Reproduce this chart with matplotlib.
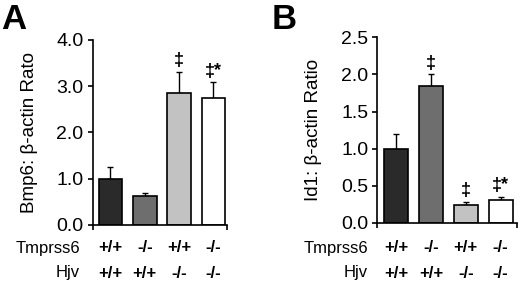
import matplotlib
matplotlib.use("Agg")
import matplotlib.pyplot as plt
import matplotlib.transforms as mtransforms

plt.rcParams['font.family'] = ['Liberation Sans', 'DejaVu Sans']

# data
tmprss6 = ["+/+", "-/-", "+/+", "-/-"]
hjv = ["+/+", "+/+", "-/-", "-/-"]
bar_colors = ["#2a2a2a", "#6e6e6e", "#c2c2c2", "#ffffff"]

bmp6 = [1.00, 0.63, 2.85, 2.74]
bmp6_err = [0.25, 0.06, 0.46, 0.34]
bmp6_marks = ["", "", "\u2021", "\u2021*"]

id1 = [1.00, 1.85, 0.24, 0.30]
id1_err = [0.19, 0.15, 0.04, 0.05]
id1_marks = ["", "\u2021", "\u2021", "\u2021*"]

fig = plt.figure(figsize=(5.2, 2.83), dpi=100)


def panel(rect, vals, errs, marks, ylim, yticks, ylabel, xlim, label_x, lpad):
    ax = fig.add_axes(rect)
    x = list(range(len(vals)))
    ax.bar(x, vals, width=0.69, color=bar_colors, edgecolor="black", linewidth=1.2, zorder=2)
    ax.errorbar(x, vals, yerr=[[0] * len(errs), errs], fmt="none", ecolor="black",
                elinewidth=1.0, capsize=2.5, capthick=1.0, zorder=1)
    for xi, v, e, m in zip(x, vals, errs, marks):
        if m:
            ax.text(xi, v + e + (ylim[1] * 0.015), m, ha="center", va="bottom",
                    fontsize=13, fontweight="bold")
    ax.set_ylim(*ylim)
    ax.set_xlim(*xlim)
    ax.set_yticks(yticks)
    ax.set_yticklabels(["%.1f" % t for t in yticks], fontsize=14)
    ax.set_xticks(xlim)
    ax.set_xticklabels([])
    ax.tick_params(axis="both", direction="out", length=3.5, width=1.2, color="black", pad=3)
    for s in ["top", "right"]:
        ax.spines[s].set_visible(False)
    for s in ["left", "bottom"]:
        ax.spines[s].set_linewidth(1.2)
    ax.set_ylabel(ylabel, fontsize=13.5, labelpad=lpad)
    trans = mtransforms.blended_transform_factory(ax.transData, fig.transFigure)
    for xi, t, h in zip(x, tmprss6, hjv):
        ax.text(xi, 1 - 248 / 283, t, transform=trans, ha="center", va="center",
                fontsize=12, fontweight="bold")
        ax.text(xi, 1 - 273 / 283, h, transform=trans, ha="center", va="center",
                fontsize=12, fontweight="bold")
    fig.text(label_x, 1 - 248 / 283, "Tmprss6", ha="right", va="center", fontsize=12)
    fig.text(label_x, 1 - 273 / 283, "Hjv", ha="right", va="center", fontsize=12)
    return ax


panel([0.178, 0.205, 0.259, 0.654], bmp6, bmp6_err, bmp6_marks, (0, 4.0),
      [0.0, 1.0, 2.0, 3.0, 4.0], "Bmp6: \u03b2-actin Rato", (-0.52, 3.40), 80 / 520, 13)
panel([0.7256, 0.213, 0.2684, 0.655], id1, id1_err, id1_marks, (0, 2.5),
      [0.0, 0.5, 1.0, 1.5, 2.0, 2.5], "Id1: \u03b2-actin Ratio", (-0.54, 3.47), 368 / 520, 14)

fig.text(1 / 520, 1 - 3 / 283, "A", ha="left", va="top", fontsize=25, fontweight="bold")
fig.text(272 / 520, 1 - 3 / 283, "B", ha="left", va="top", fontsize=25, fontweight="bold")

fig.savefig("out.png", dpi=100)
